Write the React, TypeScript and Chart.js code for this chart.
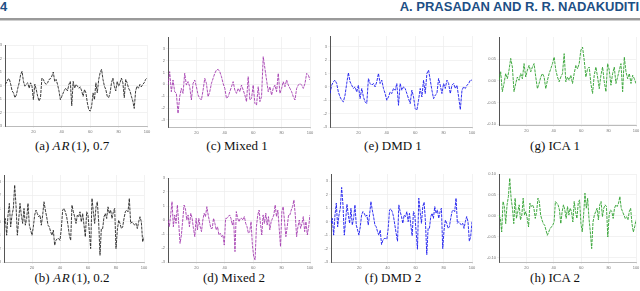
import React, { useEffect, useRef } from "react";
import { Chart, registerables } from "chart.js";
Chart.register(...registerables);

const xTickValues = [20, 40, 60, 80, 100];
const arTicks = [-3, -2, -1, 0, 1, 2, 3];
const ica1Ticks = [-0.1, -0.05, 0, 0.05];
const ica2Ticks = [-0.1, -0.05, 0, 0.05, 0.1];

const ar07 = [0.08,0.2,0.45,0.5,0.1,-0.4,-0.55,-0.9,-0.7,-0.2,
0.2,0.8,1.05,0.3,-0.05,0.1,0.2,-0.2,0.2,-0.05,
-1.05,0.1,-0.3,-0.8,-1.15,-0.9,0.55,0.45,0.2,0.08,
0.2,0.45,0.5,0.7,1.0,0.3,0.45,0.08,-0.4,-1.05,
-0.8,-0.55,-0.3,-0.2,-0.4,0.08,0.3,-1.5,0.3,-0.2,
0.08,-0.05,-0.2,-0.1,-0.4,-0.8,-0.3,-0.55,-1.3,-1.8,
-1.9,-1.55,-0.55,-1.05,0.2,-0.55,0.45,0.95,1.2,0.45,
-0.05,-0.3,-0.8,-0.9,-0.55,0.2,0.55,-0.05,-0.4,0.3,
-0.05,0.2,0.55,0.2,-0.9,0.45,0.2,-0.2,-0.4,-0.8,
-1.15,-1.7,-0.4,-0.05,-0.2,0.08,-0.1,0.08,0.2,0.45,0.55];

const ar02 = [-0.12,0.25,-1,0.5,1.38,-0.38,0.5,1,2.75,1.25,-1,0.12,1.38,0.5,-0.12,1,-0.25,0.25,1.38,-0.25,
-0.62,-1,-0.38,0.5,0.88,0.62,0.38,0.5,-0.25,0.5,1.5,0.88,0.38,-0.25,-0.38,-0.75,-1,-0.62,-1.75,-1.38,
-1.25,-1.25,-1.38,-0.5,0.88,1,0.75,0.38,-0.25,-1,-1.38,1.25,0.75,0.38,-0.12,0.5,0.38,0.75,0,0.62,
-0.25,-1.12,0.75,0.5,-0.75,-2,1.75,0.75,-0.12,1.12,1.5,0,-2.5,-0.5,-0.5,0.38,0.62,0.25,1.12,0.62,
0.88,0.25,0.75,1,-2,-0.62,0.12,-0.12,-0.5,-0.38,0.25,0.75,0.88,0.75,1.75,-0.12,0,-0.12,-0.25,-0.12,
-0.5,0,0.38,0,-1.5,-1.12];

const mixed1 = [-0.06,1.07,-0.62,0.37,-0.62,-0.76,-2.45,-1.04,-0.34,-0.76,0.93,-0.06,0.23,-0.2,-1.32,0.08,0.37,-0.2,-0.9,-1.18,
-1.32,-0.48,0.51,0.08,-1.04,-0.62,0.08,0.51,0.93,1.21,1.27,1.07,0.65,0.08,-0.34,-1.18,-1.04,-0.62,-0.2,0.23,
-0.48,-0.76,-0.34,-0.62,-0.06,-0.48,-0.9,-1.46,0.65,-1.32,-1.18,-0.06,-1.6,-1.75,-0.2,-1.46,-1.04,2.34,1.35,0.37,
-0.62,-0.2,-0.9,-0.34,-0.06,-0.62,0.93,-0.76,-0.34,0.23,-0.2,0.37,-0.06,-0.34,-0.62,-1.04,-1.32,-0.34,-0.06,0.08,
-0.06,-0.34,0.08,0.93,0.79,0.37];

const mixed2 = [0,-0.48,0.36,1.31,-0.48,0.36,-0.24,1.07,-0.24,-1.67,-1.07,0,1.07,0.83,0,0.36,-0.48,0.48,0.12,-0.6,
-1.19,0.12,-0.71,0.12,-0.48,-0.83,0,0.48,0.24,0.95,0.36,-0.12,-0.6,-0.6,0.12,-0.24,-0.71,-0.48,-1.07,-0.95,
-1.19,-1.07,-1.79,0.12,0.12,0.24,0.36,0.12,-0.36,0,-2.26,0.6,0.12,-0.12,0.12,0.12,0,0.24,-0.24,-0.48,
-0.95,-0.83,-0.12,-1.79,-2.62,-2.86,-0.48,0.36,0.71,-0.24,-1.07,0.36,-0.24,0.48,-0.36,0.24,-0.71,-0.12,0.12,0.36,
1.07,0.24,0.71,-0.6,-1.9,0.6,0.95,-0.12,-1.19,-0.48,0.36,0.36,0.71,0.95,1.43,0.36,-1.19,-0.48,0,-0.6,
-0.24,0.24,-0.83,-0.12,-1.07,-0.48,0.36];

const dmd1 = [-0.5,0.12,0.38,0.5,0.25,-0.38,-0.75,-1,-1.12,-0.62,0.25,1.05,0.38,0.12,-0.12,0,-0.38,0.12,-0.88,-0.12,
-0.75,-1.12,-1.25,0.62,0.25,0.12,0.25,0,0.38,1.0,0.25,0.5,-0.12,-0.5,-1,-0.75,-0.38,-0.5,-0.12,-0.25,
0.25,-1.38,0.25,-0.25,0,-0.12,-0.5,-0.88,-1.25,-0.25,-0.75,-1.62,-1.75,-1,-0.12,-0.75,0.5,-0.5,1.0,1.25,
0.5,-0.25,-0.88,-0.62,-0.5,0.62,0.12,-0.5,0.25,-0.12,0.5,0.25,-0.5,0.12,0.25,-0.12,0.12,-0.75,-1.7,-0.25,
0,-0.12,0.12,0.25,0.5,0.5];

const dmd2 = [-0.12,0.25,-1,0.5,1.38,-0.38,0.5,1,2.55,1.25,-1,0.12,1.3,0.5,-0.12,1,-0.25,0.25,1.25,-0.25,
-0.62,-1,-0.38,0.5,0.75,0.62,0.38,0.5,-0.25,0.5,1.5,0.88,0.38,-0.25,-0.38,-0.75,-1,-0.62,-1.7,-1.38,
-1.25,-1.25,-1.3,-0.5,0.88,0.95,0.75,0.38,-0.25,-0.88,-1.45,1.25,0.75,0.38,-0.12,0.5,0.38,0.75,0,0.62,
-0.25,-1.05,0.75,0.5,-0.75,-2.05,1.75,0.75,-0.12,1.12,1.45,0,-2.45,-0.5,-0.5,0.38,0.62,0.25,1.12,0.62,
0.88,0.25,0.75,1,-2,-0.62,0.12,-0.12,-0.5,-0.38,0.25,0.75,0.88,0.75,1.75,-0.12,0,-0.12,-0.25,-0.12,
-0.5,0,0.38,0,-1.45,-1.12,0];

const ica1 = [0.0015,0.021,-0.025,-0.006,0.017,0.005,0.025,0.052,0.032,-0.025,-0.006,0.009,0.0015,0.017,0.005,0.04,0.009,0.025,0.036,0.021,
0.032,0.04,0.009,-0.018,-0.006,0.009,0.017,0.009,-0.018,0.0015,0.017,0.028,0.04,0.055,0.025,0.009,-0.002,0.009,0.017,0.063,
-0.002,0.009,0.0015,0.013,-0.006,0.017,0.036,0.028,0.04,0.071,0.078,0.048,0.009,0.028,0.032,-0.006,-0.029,0.013,0.032,0.009,
-0.018,0.013,0.032,-0.002,-0.025,0.04,0.025,-0.01,0.017,0.032,-0.006,0.009,0.025,0.04,-0.025,0.055,0.021,0.005,0.017,-0.006,
0.013,0.005,-0.006];

const ica2 = [0.0016,-0.0065,-0.039,0.034,0.022,-0.019,0.026,0.046,0.09,0.042,0.018,-0.019,0.042,-0.0065,0.0097,0.026,-0.01,0.0016,0.042,0.0016,
0.0097,-0.0065,-0.027,0.03,0.022,0.026,0.018,-0.0065,0.0097,0.042,0.034,0.0016,-0.01,-0.019,-0.023,-0.035,-0.047,-0.039,-0.031,-0.027,
-0.023,-0.015,0.034,0.03,0.026,0.014,-0.019,0.0097,0.026,0.014,-0.0065,0.022,0.0016,0.018,0.0097,-0.015,0.034,0.0097,-0.0065,0.03,
0.038,-0.019,-0.039,0.0016,0.054,0.018,0.042,-0.0065,-0.039,-0.079,-0.015,0.0016,0.0097,0.018,-0.01,0.026,0.034,-0.0024,0.018,0.026,
0.022,-0.051,0.0016,0.014,0.0097,-0.0065,0.018,0.026,0.022,0.03,0.046,0.018,0.0097,0.0016,-0.0065,-0.0024,-0.01,0.0097,0.018,-0.019,
-0.039,-0.027,-0.01];

type Panel = {
  data: number[]; color: string; L: number; R: number; T: number; B: number;
  min: number; max: number; yTicks: number[]; dec: number;
};

const panels: Panel[] = [
  { data: ar07, color: "#262626", L: 5, R: 147, T: 45, B: 126, min: -3, max: 3, yTicks: arTicks, dec: 0 },
  { data: ar02, color: "#262626", L: 4, R: 144, T: 175, B: 262, min: -3, max: 3.5, yTicks: arTicks, dec: 0 },
  { data: mixed1, color: "#a43cb0", L: 168, R: 310, T: 37, B: 127, min: -3.6, max: 4, yTicks: arTicks, dec: 0 },
  { data: mixed2, color: "#a43cb0", L: 168, R: 310, T: 178, B: 262, min: -3, max: 3, yTicks: arTicks, dec: 0 },
  { data: dmd1, color: "#1a1aee", L: 330, R: 472, T: 36, B: 127, min: -3, max: 3.8, yTicks: arTicks, dec: 0 },
  { data: dmd2, color: "#1a1aee", L: 331, R: 472, T: 174, B: 262, min: -3, max: 3.55, yTicks: arTicks, dec: 0 },
  { data: ica1, color: "#2ea02e", L: 499, R: 636, T: 37, B: 125, min: -0.102, max: 0.1015, yTicks: ica1Ticks, dec: 2 },
  { data: ica2, color: "#2ea02e", L: 499, R: 636, T: 174, B: 262, min: -0.111, max: 0.1, yTicks: ica2Ticks, dec: 2 },
];

const PAD_L = 12, PAD_T = 4, PAD_R = 5, PAD_B = 8;

function MiniPlot({ p }: { p: Panel }) {
  const ref = useRef<HTMLCanvasElement>(null);
  const w = p.R - p.L + PAD_L + PAD_R;
  const h = p.B - p.T + PAD_T + PAD_B;
  useEffect(() => {
    const n = p.data.length;
    const pts = p.data.map((v, i) => ({ x: (i * 100) / (n - 1), y: v }));
    const tickFont = { size: 4, family: "Liberation Sans" };
    const chart = new Chart(ref.current as HTMLCanvasElement, {
      type: "line",
      data: {
        datasets: [{
          data: pts, borderColor: p.color, borderWidth: 0.9, borderDash: [3, 1],
          pointRadius: 0, tension: 0, fill: false,
        }],
      },
      options: {
        animation: false, responsive: false, events: [],
        plugins: { legend: { display: false }, tooltip: { enabled: false } },
        layout: { padding: { left: 0, top: PAD_T, right: PAD_R, bottom: 0 } },
        scales: {
          x: {
            type: "linear", min: 0, max: 100,
            afterBuildTicks: (s: any) => { s.ticks = xTickValues.map((v) => ({ value: v })); },
            afterFit: (s: any) => { s.height = PAD_B; s.paddingLeft = 0; s.paddingRight = 0; },
            ticks: { font: tickFont, color: "#777", padding: 1, maxRotation: 0, autoSkip: false, callback: (v: any) => String(v) },
            grid: { color: "#ececec", lineWidth: 0.7, tickLength: 2 },
            border: { color: "#bbbbbb", width: 1 },
          },
          y: {
            type: "linear", min: p.min, max: p.max,
            afterBuildTicks: (s: any) => { s.ticks = p.yTicks.map((v) => ({ value: v })); },
            afterFit: (s: any) => { s.width = PAD_L; s.paddingTop = 0; s.paddingBottom = 0; },
            ticks: { font: tickFont, color: "#777", padding: 1, autoSkip: false, callback: (v: any) => Number(v).toFixed(p.dec) },
            grid: { color: "#ececec", lineWidth: 0.7, tickLength: 2 },
            border: { color: "#555555", width: 1 },
          },
        },
      },
    } as any);
    return () => chart.destroy();
  }, []);
  return (
    <canvas ref={ref} width={w} height={h}
      style={{ position: "absolute", left: p.L - PAD_L, top: p.T - PAD_T, width: w, height: h }} />
  );
}

const mathAR = <i style={{ letterSpacing: "1px", marginRight: 1 }}>AR</i>;
const captionsTop = [
  { c: 72, el: <>(a) {mathAR}(1),<span style={{ marginLeft: 3 }}>0.7</span></> },
  { c: 237, el: <>(c) Mixed 1</> },
  { c: 393, el: <>(e) DMD 1</> },
  { c: 555, el: <>(g) ICA 1</> },
];
const captionsBottom = [
  { c: 72, el: <>(b) {mathAR}(1),<span style={{ marginLeft: 3 }}>0.2</span></> },
  { c: 234, el: <>(d) Mixed 2</> },
  { c: 393, el: <>(f) DMD 2</> },
  { c: 555, el: <>(h) ICA 2</> },
];

export default function App() {
  const capStyle = (c: number, top: number): React.CSSProperties => ({
    position: "absolute", left: c - 80, width: 160, top, textAlign: "center",
    font: "13px 'Liberation Serif', serif", lineHeight: "15px", color: "#111",
  });
  return (
    <div style={{ position: "absolute", left: 0, top: 0, width: 640, height: 291, background: "#fff", overflow: "hidden" }}>
      <div style={{ position: "absolute", left: 0, top: 0, font: "bold 13px 'Liberation Sans', sans-serif", color: "#1d4f85", lineHeight: "13px" }}>4</div>
      <div style={{ position: "absolute", right: 1, top: 0, font: "bold 13px 'Liberation Sans', sans-serif", color: "#1d4f85", lineHeight: "13px", whiteSpace: "nowrap" }}>A. PRASADAN AND R. R. NADAKUDITI</div>
      <div style={{ position: "absolute", left: 0, top: 18, width: 640, height: 2, background: "#9a9a9a" }} />
      <div style={{ position: "absolute", left: 0, top: 20, width: 640, height: 1, background: "#cfcfcf" }} />
      {panels.map((p, i) => <MiniPlot key={i} p={p} />)}
      {captionsTop.map((c, i) => <div key={"t" + i} style={capStyle(c.c, 138)}>{c.el}</div>)}
      {captionsBottom.map((c, i) => <div key={"b" + i} style={capStyle(c.c, 270)}>{c.el}</div>)}
    </div>
  );
}
